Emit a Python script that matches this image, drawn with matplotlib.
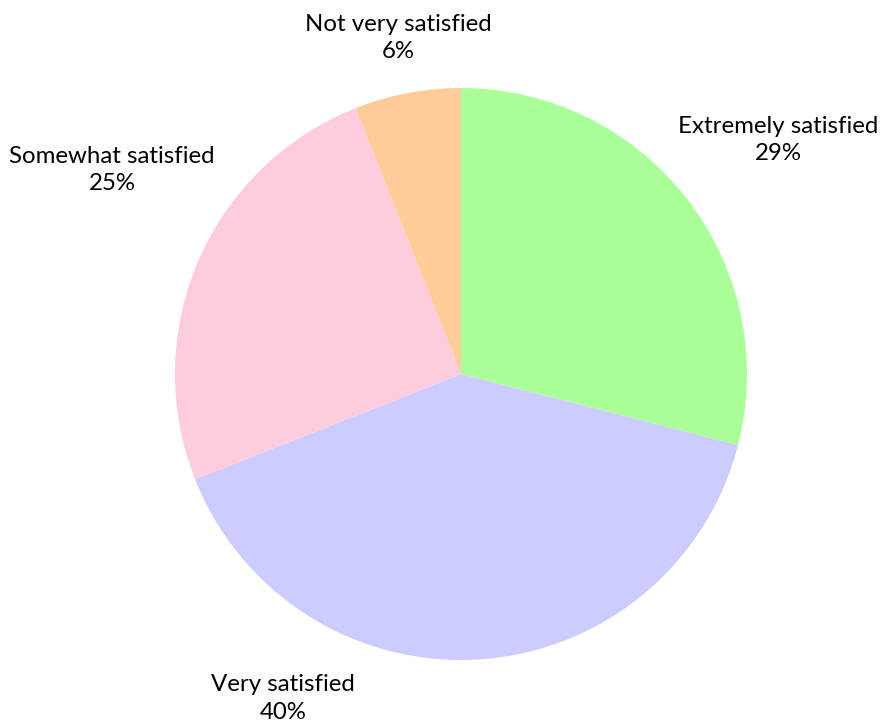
import matplotlib
matplotlib.use("Agg")
import matplotlib.pyplot as plt

# Satisfaction survey shares, clockwise from 12 o'clock
categories = ["Extremely satisfied", "Very satisfied", "Somewhat satisfied", "Not very satisfied"]
shares = [29, 40, 25, 6]
colors = ["#aaff99", "#ccccff", "#ffccdd", "#ffcc99"]

# label anchor points (data units, pie radius = 1)
label_pos = [(1.108, 0.818), (-0.622, -1.136), (-1.220, 0.713), (-0.220, 1.175)]

plt.rcParams['font.family'] = ['Lato', 'DejaVu Sans']

fig = plt.figure(figsize=(8.82, 7.23), dpi=100)
ax = fig.add_axes([0, 0, 1, 1])

ax.pie(shares, colors=colors, startangle=90, counterclock=False,
       radius=1.0, center=(0, 0), wedgeprops=dict(linewidth=0))

for name, val, (x, y) in zip(categories, shares, label_pos):
    ax.text(x, y, "%s\n%d%%" % (name, val), ha='center', va='center',
            fontsize=17.3, color='black', linespacing=1.4)

ax.set_aspect('auto')
ax.set_xlim(-461 / 286, (882 - 461) / 286)
ax.set_ylim(-(723 - 374) / 286, 374 / 286)
ax.axis('off')

fig.savefig("out.png", dpi=100, facecolor='white')
